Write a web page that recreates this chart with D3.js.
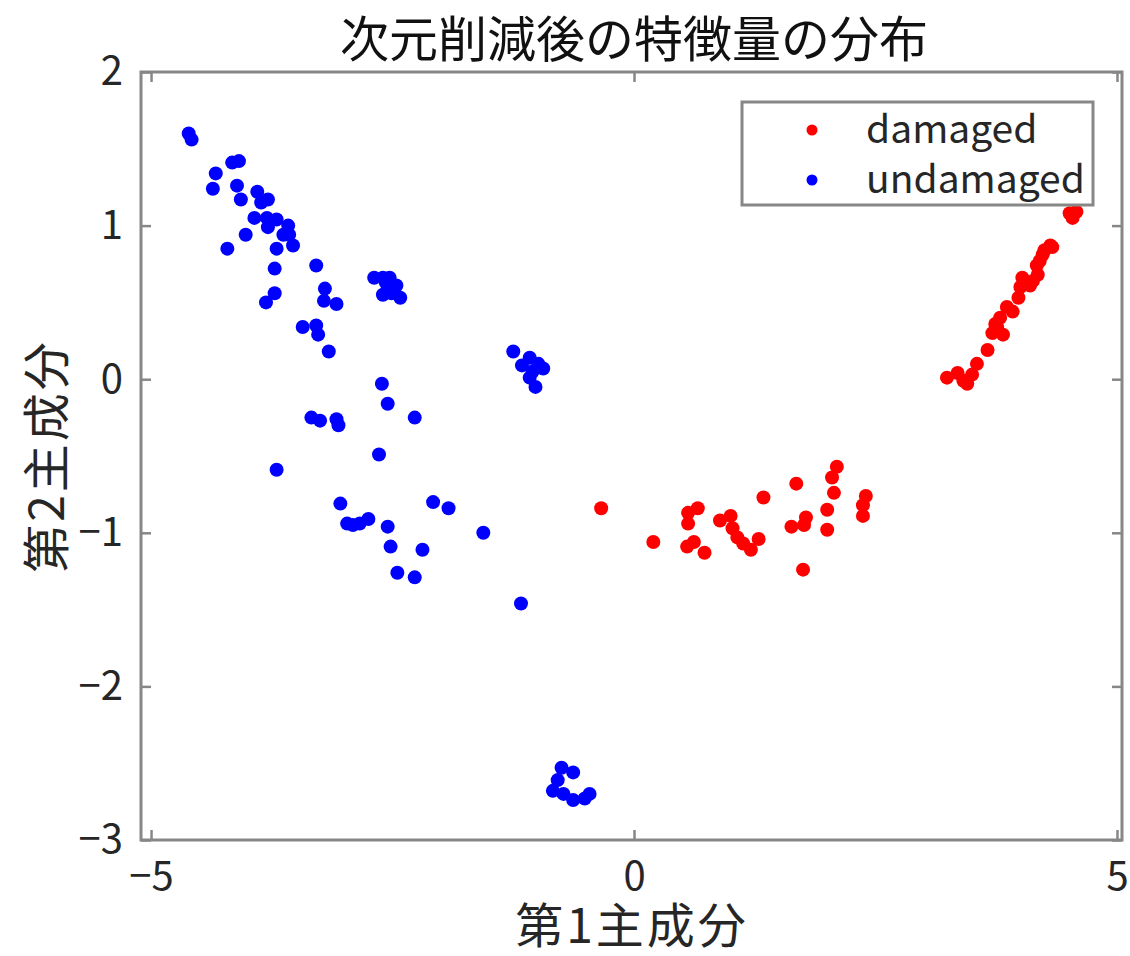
<!DOCTYPE html>
<html>
<head>
<meta charset="utf-8">
<script src="https://cdn.jsdelivr.net/npm/d3@7"></script>
<style>
  body { margin: 0; background: #fff; }
  svg { display: block; font-family: "Noto Sans CJK JP", "Noto Sans", sans-serif; }
</style>
</head>
<body>
<svg id="chart"></svg>
<script>
var W = 1130, H = 956;

// data
var damagedX = [-0.34, 0.20, 0.56, 0.66, 0.56, 0.55, 0.62, 0.73, 0.89, 1.00, 1.02, 1.07, 1.13, 1.21, 1.29,
  1.34, 1.63, 1.68, 1.78, 1.76, 1.75, 2.00, 2.00, 2.05, 2.10, 2.07, 2.40, 2.37, 2.37,
  4.51, 4.54, 4.58, 4.33, 4.25, 4.23, 4.20, 4.17, 4.18, 4.13, 4.10, 4.02, 4.00, 3.98, 3.86, 3.92,
  3.79, 3.74, 3.76, 3.71, 3.82, 3.66, 3.55, 3.24, 3.35, 3.45, 3.50, 3.41, 4.31];
var damagedY = [-0.84, -1.06, -0.87, -0.84, -0.94, -1.09, -1.06, -1.13, -0.92, -0.89, -0.97, -1.03, -1.07, -1.11, -1.04,
  -0.77, -0.96, -0.68, -0.90, -0.95, -1.24, -0.85, -0.98, -0.64, -0.57, -0.74, -0.76, -0.82, -0.89,
  1.08, 1.05, 1.09, 0.86, 0.84, 0.81, 0.77, 0.74, 0.68, 0.64, 0.61, 0.66, 0.60, 0.53, 0.47, 0.44,
  0.40, 0.36, 0.34, 0.30, 0.29, 0.19, 0.10, 0.01, 0.04, -0.03, 0.03, -0.01, 0.87];

var undamagedX = [-4.61, -4.58, -4.16, -4.09, -4.33, -4.36, -4.11, -4.07, -3.90, -3.86, -3.79, -3.93, -3.80, -3.79, -3.70,
  -3.58, -3.63, -3.57, -3.53, -4.02, -4.21, -3.70, -3.72, -3.29, -3.20, -3.21, -3.08, -3.72, -3.81, -3.43,
  -3.29, -3.27, -3.16, -2.69, -2.60, -2.53, -2.57, -2.46, -2.60, -2.51, -2.42, -2.61, -2.55, -2.27, -3.34,
  -3.25, -3.08, -3.06, -2.64, -3.70, -3.04, -2.97, -2.91, -2.84, -2.75, -2.55, -2.08, -1.92, -1.56, -2.52,
  -2.19, -2.45, -2.27, -1.17, -1.25, -1.16, -1.08, -0.99, -0.94, -1.05, -1.08, -1.02,
  -0.75, -0.63, -0.79, -0.84, -0.73, -0.63, -0.51, -0.46];
var undamagedY = [1.60, 1.56, 1.41, 1.42, 1.34, 1.24, 1.26, 1.17, 1.22, 1.15, 1.17, 1.05, 1.05, 0.99, 1.04,
  1.00, 0.94, 0.94, 0.87, 0.94, 0.85, 0.85, 0.72, 0.74, 0.59, 0.51, 0.49, 0.56, 0.50, 0.34,
  0.35, 0.29, 0.18, 0.66, 0.66, 0.66, 0.63, 0.61, 0.55, 0.56, 0.53, -0.03, -0.16, -0.25, -0.25,
  -0.27, -0.26, -0.30, -0.49, -0.59, -0.81, -0.94, -0.95, -0.94, -0.91, -0.96, -0.80, -0.84, -1.00, -1.09,
  -1.11, -1.26, -1.29, -1.46, 0.18, 0.09, 0.14, 0.10, 0.07, 0.05, 0.01, -0.05,
  -2.53, -2.56, -2.61, -2.68, -2.70, -2.74, -2.73, -2.70];

var xTicks = [-5, 0, 5];
var yTicks = [-3, -2, -1, 0, 1, 2];
var seriesNames = ["damaged", "undamaged"];
var seriesColors = ["#ff0000", "#0000ff"];

var titleText = "次元削減後の特徴量の分布";
var xLabel = "第1主成分";
var yLabel = "第2主成分";

// plot box (window.top is reserved, so use other names)
var boxL = 141, boxR = 1122, boxT = 72, boxB = 840;
var axisColor = "#878787";
var textColor = "#262626";

var svg = d3.select("#chart").attr("width", W).attr("height", H);

var x = d3.scaleLinear().domain([-5.104, 5.052]).range([boxL, boxR]);
var y = d3.scaleLinear().domain([-3, 2]).range([boxB, boxT]);

function fmt(d) { return d < 0 ? "\u2212" + Math.abs(d) : String(d); }

// points
var series = [
  { name: seriesNames[0], color: seriesColors[0], xs: damagedX, ys: damagedY },
  { name: seriesNames[1], color: seriesColors[1], xs: undamagedX, ys: undamagedY }
];
series.forEach(function(s){
  svg.append("g").selectAll("circle")
    .data(d3.range(s.xs.length))
    .enter().append("circle")
      .attr("cx", function(i){ return x(s.xs[i]); })
      .attr("cy", function(i){ return y(s.ys[i]); })
      .attr("r", 7)
      .style("fill", s.color);
});

// axes (ticks pointing inward)
var gx = svg.append("g").attr("transform", "translate(0," + boxB + ")")
  .call(d3.axisBottom(x).tickValues(xTicks).tickSize(-10).tickSizeOuter(0).tickPadding(22).tickFormat(fmt));
var gxt = svg.append("g").attr("transform", "translate(0," + boxT + ")")
  .call(d3.axisTop(x).tickValues(xTicks).tickSize(-10).tickSizeOuter(0).tickFormat(""));
var gy = svg.append("g").attr("transform", "translate(" + boxL + ",0)")
  .call(d3.axisLeft(y).tickValues(yTicks).tickSize(-10).tickSizeOuter(0).tickPadding(18).tickFormat(fmt));
var gyr = svg.append("g").attr("transform", "translate(" + boxR + ",0)")
  .call(d3.axisRight(y).tickValues(yTicks).tickSize(-10).tickSizeOuter(0).tickFormat(""));

[gx, gxt, gy, gyr].forEach(function(g){
  g.select(".domain").remove();
  g.selectAll("line").style("stroke", axisColor).style("stroke-width", 2.5);
  g.selectAll("text").style("font-size", "40px").style("fill", textColor)
    .style("font-family", "'Noto Sans CJK JP', sans-serif");
});

svg.append("rect")
  .attr("x", boxL).attr("y", boxT)
  .attr("width", boxR - boxL).attr("height", boxB - boxT)
  .style("fill", "none").style("stroke", axisColor).style("stroke-width", 3);

// titles
svg.append("text")
  .attr("x", 634).attr("y", 57)
  .attr("text-anchor", "middle")
  .style("font-size", "49px").style("fill", "#111")
  .text(titleText);

svg.append("text")
  .attr("x", 632).attr("y", 943)
  .attr("text-anchor", "middle")
  .style("font-size", "48px").style("letter-spacing", "3px").style("fill", textColor)
  .text(xLabel);

svg.append("text")
  .attr("transform", "translate(64,456) rotate(-90)")
  .attr("text-anchor", "middle")
  .style("font-size", "48px").style("letter-spacing", "3px").style("fill", textColor)
  .text(yLabel);

// legend
var legend = svg.append("g");
legend.append("rect")
  .attr("x", 742).attr("y", 102).attr("width", 351).attr("height", 103)
  .style("fill", "#fff").style("stroke", axisColor).style("stroke-width", 3);
series.forEach(function(s, i){
  var ly = 130 + i * 50;
  legend.append("circle").attr("cx", 812).attr("cy", ly).attr("r", 5.5).style("fill", s.color);
  legend.append("text").attr("x", 866).attr("y", ly + 13)
    .style("font-size", "39px").style("fill", textColor)
    .text(s.name);
});
</script>
</body>
</html>
